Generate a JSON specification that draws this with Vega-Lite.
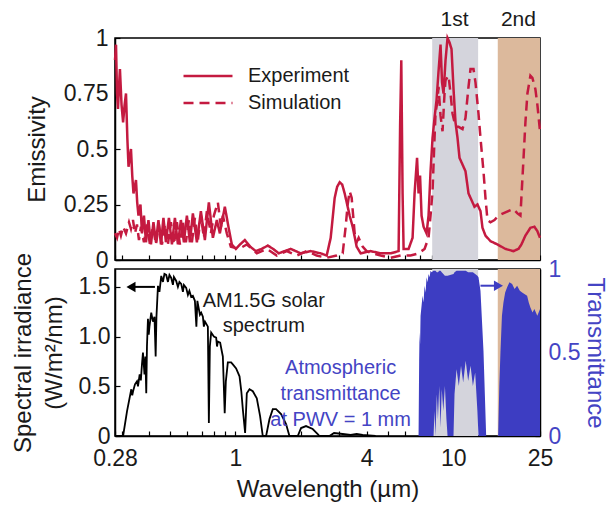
{
  "$schema": "https://vega.github.io/schema/vega-lite/v6.json",
  "padding": {"left": 10, "top": 8, "right": 6, "bottom": 0},
  "background": "white",
  "config": {
    "font": "Liberation Sans",
    "view": {"stroke": "#000", "strokeWidth": 1.5},
    "axis": {"labelFontSize": 23, "titleFontSize": 24, "labelColor": "#1a1a1a", "titleColor": "#1a1a1a", "titleFontWeight": "normal", "domainColor": "#000", "domainWidth": 1.5, "tickColor": "#000", "tickWidth": 1.2, "grid": false, "labelFlush": false, "labelOverlap": false, "zindex": 1},
    "text": {"font": "Liberation Sans"}
  },
  "datasets": {
    "bands": [
      {"band": "1st", "lo": 8, "hi": 13},
      {"band": "2nd", "lo": 16, "hi": 25}
    ],
    "emis": [
      {"series": "Experiment", "lam": 0.28, "e": 0.9},
      {"series": "Experiment", "lam": 0.283, "e": 0.97},
      {"series": "Experiment", "lam": 0.286, "e": 0.75},
      {"series": "Experiment", "lam": 0.289, "e": 0.68},
      {"series": "Experiment", "lam": 0.292, "e": 0.78},
      {"series": "Experiment", "lam": 0.295, "e": 0.86},
      {"series": "Experiment", "lam": 0.3, "e": 0.7},
      {"series": "Experiment", "lam": 0.305, "e": 0.62},
      {"series": "Experiment", "lam": 0.31, "e": 0.7},
      {"series": "Experiment", "lam": 0.3145, "e": 0.75},
      {"series": "Experiment", "lam": 0.319, "e": 0.55},
      {"series": "Experiment", "lam": 0.323, "e": 0.42},
      {"series": "Experiment", "lam": 0.327, "e": 0.46},
      {"series": "Experiment", "lam": 0.3315, "e": 0.5},
      {"series": "Experiment", "lam": 0.336, "e": 0.38},
      {"series": "Experiment", "lam": 0.3404, "e": 0.3},
      {"series": "Experiment", "lam": 0.345, "e": 0.33},
      {"series": "Experiment", "lam": 0.3495, "e": 0.36},
      {"series": "Experiment", "lam": 0.354, "e": 0.26},
      {"series": "Experiment", "lam": 0.3588, "e": 0.2},
      {"series": "Experiment", "lam": 0.3665, "e": 0.25},
      {"series": "Experiment", "lam": 0.3723, "e": 0.12},
      {"series": "Experiment", "lam": 0.3803, "e": 0.2},
      {"series": "Experiment", "lam": 0.3884, "e": 0.08},
      {"series": "Experiment", "lam": 0.3988, "e": 0.18},
      {"series": "Experiment", "lam": 0.4094, "e": 0.07},
      {"series": "Experiment", "lam": 0.4204, "e": 0.17},
      {"series": "Experiment", "lam": 0.4316, "e": 0.08},
      {"series": "Experiment", "lam": 0.4432, "e": 0.18},
      {"series": "Experiment", "lam": 0.455, "e": 0.07},
      {"series": "Experiment", "lam": 0.4672, "e": 0.19},
      {"series": "Experiment", "lam": 0.4796, "e": 0.08},
      {"series": "Experiment", "lam": 0.4951, "e": 0.19},
      {"series": "Experiment", "lam": 0.511, "e": 0.07},
      {"series": "Experiment", "lam": 0.5274, "e": 0.19},
      {"series": "Experiment", "lam": 0.5444, "e": 0.07},
      {"series": "Experiment", "lam": 0.5619, "e": 0.18},
      {"series": "Experiment", "lam": 0.58, "e": 0.08},
      {"series": "Experiment", "lam": 0.5986, "e": 0.2},
      {"series": "Experiment", "lam": 0.6179, "e": 0.08},
      {"series": "Experiment", "lam": 0.6377, "e": 0.21},
      {"series": "Experiment", "lam": 0.6653, "e": 0.08},
      {"series": "Experiment", "lam": 0.694, "e": 0.22},
      {"series": "Experiment", "lam": 0.7239, "e": 0.09},
      {"series": "Experiment", "lam": 0.7551, "e": 0.26},
      {"series": "Experiment", "lam": 0.7877, "e": 0.1},
      {"series": "Experiment", "lam": 0.8216, "e": 0.18},
      {"series": "Experiment", "lam": 0.8481, "e": 0.12},
      {"series": "Experiment", "lam": 0.894, "e": 0.24},
      {"series": "Experiment", "lam": 0.9325, "e": 0.14},
      {"series": "Experiment", "lam": 0.9626, "e": 0.07},
      {"series": "Experiment", "lam": 1.004, "e": 0.05},
      {"series": "Experiment", "lam": 1.05, "e": 0.07},
      {"series": "Experiment", "lam": 1.1041, "e": 0.09},
      {"series": "Experiment", "lam": 1.17, "e": 0.06},
      {"series": "Experiment", "lam": 1.24, "e": 0.04},
      {"series": "Experiment", "lam": 1.32, "e": 0.05},
      {"series": "Experiment", "lam": 1.4075, "e": 0.065},
      {"series": "Experiment", "lam": 1.49, "e": 0.05},
      {"series": "Experiment", "lam": 1.5808, "e": 0.03},
      {"series": "Experiment", "lam": 1.68, "e": 0.04},
      {"series": "Experiment", "lam": 1.7942, "e": 0.05},
      {"series": "Experiment", "lam": 1.9939, "e": 0.03},
      {"series": "Experiment", "lam": 2.2158, "e": 0.04},
      {"series": "Experiment", "lam": 2.4625, "e": 0.03},
      {"series": "Experiment", "lam": 2.6233, "e": 0.02},
      {"series": "Experiment", "lam": 2.7366, "e": 0.1},
      {"series": "Experiment", "lam": 2.8545, "e": 0.28},
      {"series": "Experiment", "lam": 2.93, "e": 0.33},
      {"series": "Experiment", "lam": 3.0092, "e": 0.35},
      {"series": "Experiment", "lam": 3.09, "e": 0.34},
      {"series": "Experiment", "lam": 3.1722, "e": 0.3},
      {"series": "Experiment", "lam": 3.3441, "e": 0.2},
      {"series": "Experiment", "lam": 3.4517, "e": 0.15},
      {"series": "Experiment", "lam": 3.6004, "e": 0.06},
      {"series": "Experiment", "lam": 3.7559, "e": 0.03},
      {"series": "Experiment", "lam": 4.1739, "e": 0.04},
      {"series": "Experiment", "lam": 4.6385, "e": 0.03},
      {"series": "Experiment", "lam": 5.1548, "e": 0.03},
      {"series": "Experiment", "lam": 5.6091, "e": 0.04},
      {"series": "Experiment", "lam": 5.6985, "e": 0.6},
      {"series": "Experiment", "lam": 5.7711, "e": 0.9},
      {"series": "Experiment", "lam": 5.8507, "e": 0.3},
      {"series": "Experiment", "lam": 5.9131, "e": 0.05},
      {"series": "Experiment", "lam": 6.2336, "e": 0.05},
      {"series": "Experiment", "lam": 6.5019, "e": 0.1},
      {"series": "Experiment", "lam": 6.6406, "e": 0.3},
      {"series": "Experiment", "lam": 6.818, "e": 0.46},
      {"series": "Experiment", "lam": 6.927, "e": 0.3},
      {"series": "Experiment", "lam": 7.0377, "e": 0.38},
      {"series": "Experiment", "lam": 7.1499, "e": 0.2},
      {"series": "Experiment", "lam": 7.3027, "e": 0.15},
      {"series": "Experiment", "lam": 7.5369, "e": 0.12},
      {"series": "Experiment", "lam": 7.6983, "e": 0.2},
      {"series": "Experiment", "lam": 7.8623, "e": 0.4},
      {"series": "Experiment", "lam": 8.0299, "e": 0.55},
      {"series": "Experiment", "lam": 8.2012, "e": 0.64},
      {"series": "Experiment", "lam": 8.3763, "e": 0.72},
      {"series": "Experiment", "lam": 8.5548, "e": 0.85},
      {"series": "Experiment", "lam": 8.7376, "e": 0.97},
      {"series": "Experiment", "lam": 8.877, "e": 0.8},
      {"series": "Experiment", "lam": 9.0189, "e": 0.75},
      {"series": "Experiment", "lam": 9.2106, "e": 0.9},
      {"series": "Experiment", "lam": 9.4075, "e": 1.0},
      {"series": "Experiment", "lam": 9.608, "e": 0.98},
      {"series": "Experiment", "lam": 9.8131, "e": 0.95},
      {"series": "Experiment", "lam": 10.023, "e": 0.77},
      {"series": "Experiment", "lam": 10.236, "e": 0.62},
      {"series": "Experiment", "lam": 10.455, "e": 0.55},
      {"series": "Experiment", "lam": 10.678, "e": 0.46},
      {"series": "Experiment", "lam": 11.021, "e": 0.43},
      {"series": "Experiment", "lam": 11.375, "e": 0.4},
      {"series": "Experiment", "lam": 11.742, "e": 0.3},
      {"series": "Experiment", "lam": 12.119, "e": 0.27},
      {"series": "Experiment", "lam": 12.509, "e": 0.24},
      {"series": "Experiment", "lam": 12.912, "e": 0.25},
      {"series": "Experiment", "lam": 13.327, "e": 0.22},
      {"series": "Experiment", "lam": 13.611, "e": 0.145},
      {"series": "Experiment", "lam": 14.049, "e": 0.11},
      {"series": "Experiment", "lam": 14.811, "e": 0.085},
      {"series": "Experiment", "lam": 15.946, "e": 0.07},
      {"series": "Experiment", "lam": 17.351, "e": 0.05},
      {"series": "Experiment", "lam": 18.881, "e": 0.04},
      {"series": "Experiment", "lam": 19.903, "e": 0.05},
      {"series": "Experiment", "lam": 20.543, "e": 0.07},
      {"series": "Experiment", "lam": 21.429, "e": 0.11},
      {"series": "Experiment", "lam": 22.591, "e": 0.145},
      {"series": "Experiment", "lam": 23.556, "e": 0.15},
      {"series": "Experiment", "lam": 24.314, "e": 0.13},
      {"series": "Experiment", "lam": 25, "e": 0.1},
      {"series": "Simulation", "lam": 0.28, "e": 0.12},
      {"series": "Simulation", "lam": 0.286, "e": 0.1},
      {"series": "Simulation", "lam": 0.292, "e": 0.14},
      {"series": "Simulation", "lam": 0.298, "e": 0.11},
      {"series": "Simulation", "lam": 0.305, "e": 0.15},
      {"series": "Simulation", "lam": 0.3145, "e": 0.12},
      {"series": "Simulation", "lam": 0.3246, "e": 0.17},
      {"series": "Simulation", "lam": 0.3315, "e": 0.14},
      {"series": "Simulation", "lam": 0.3386, "e": 0.18},
      {"series": "Simulation", "lam": 0.3458, "e": 0.12},
      {"series": "Simulation", "lam": 0.3532, "e": 0.16},
      {"series": "Simulation", "lam": 0.3607, "e": 0.09},
      {"series": "Simulation", "lam": 0.3684, "e": 0.15},
      {"series": "Simulation", "lam": 0.3803, "e": 0.08},
      {"series": "Simulation", "lam": 0.3925, "e": 0.16},
      {"series": "Simulation", "lam": 0.4051, "e": 0.07},
      {"series": "Simulation", "lam": 0.4182, "e": 0.15},
      {"series": "Simulation", "lam": 0.4316, "e": 0.07},
      {"series": "Simulation", "lam": 0.4455, "e": 0.16},
      {"series": "Simulation", "lam": 0.4599, "e": 0.07},
      {"series": "Simulation", "lam": 0.4746, "e": 0.16},
      {"series": "Simulation", "lam": 0.4899, "e": 0.07},
      {"series": "Simulation", "lam": 0.5056, "e": 0.17},
      {"series": "Simulation", "lam": 0.5219, "e": 0.07},
      {"series": "Simulation", "lam": 0.5386, "e": 0.17},
      {"series": "Simulation", "lam": 0.556, "e": 0.07},
      {"series": "Simulation", "lam": 0.5739, "e": 0.17},
      {"series": "Simulation", "lam": 0.5923, "e": 0.08},
      {"series": "Simulation", "lam": 0.6114, "e": 0.18},
      {"series": "Simulation", "lam": 0.6311, "e": 0.08},
      {"series": "Simulation", "lam": 0.6514, "e": 0.19},
      {"series": "Simulation", "lam": 0.6724, "e": 0.09},
      {"series": "Simulation", "lam": 0.694, "e": 0.2},
      {"series": "Simulation", "lam": 0.7163, "e": 0.1},
      {"series": "Simulation", "lam": 0.7393, "e": 0.22},
      {"series": "Simulation", "lam": 0.7712, "e": 0.12},
      {"series": "Simulation", "lam": 0.7961, "e": 0.2},
      {"series": "Simulation", "lam": 0.8304, "e": 0.26},
      {"series": "Simulation", "lam": 0.8571, "e": 0.15},
      {"series": "Simulation", "lam": 0.8754, "e": 0.2},
      {"series": "Simulation", "lam": 0.9131, "e": 0.12},
      {"series": "Simulation", "lam": 0.9525, "e": 0.06},
      {"series": "Simulation", "lam": 1.0363, "e": 0.05},
      {"series": "Simulation", "lam": 1.1277, "e": 0.07},
      {"series": "Simulation", "lam": 1.2532, "e": 0.03},
      {"series": "Simulation", "lam": 1.3927, "e": 0.05},
      {"series": "Simulation", "lam": 1.5477, "e": 0.02},
      {"series": "Simulation", "lam": 1.72, "e": 0.04},
      {"series": "Simulation", "lam": 1.9114, "e": 0.02},
      {"series": "Simulation", "lam": 2.1241, "e": 0.04},
      {"series": "Simulation", "lam": 2.3605, "e": 0.02},
      {"series": "Simulation", "lam": 2.6233, "e": 0.01},
      {"series": "Simulation", "lam": 2.9153, "e": 0.02},
      {"series": "Simulation", "lam": 3.106, "e": 0.03},
      {"series": "Simulation", "lam": 3.2058, "e": 0.15},
      {"series": "Simulation", "lam": 3.2743, "e": 0.25},
      {"series": "Simulation", "lam": 3.3441, "e": 0.31},
      {"series": "Simulation", "lam": 3.4155, "e": 0.28},
      {"series": "Simulation", "lam": 3.4701, "e": 0.2},
      {"series": "Simulation", "lam": 3.5253, "e": 0.12},
      {"series": "Simulation", "lam": 3.6004, "e": 0.08},
      {"series": "Simulation", "lam": 3.6776, "e": 0.1},
      {"series": "Simulation", "lam": 3.8359, "e": 0.06},
      {"series": "Simulation", "lam": 4.0011, "e": 0.04},
      {"series": "Simulation", "lam": 4.2628, "e": 0.03},
      {"series": "Simulation", "lam": 4.6385, "e": 0.02},
      {"series": "Simulation", "lam": 5.1548, "e": 0.01},
      {"series": "Simulation", "lam": 5.7287, "e": 0.02},
      {"series": "Simulation", "lam": 6.3663, "e": 0.02},
      {"series": "Simulation", "lam": 6.927, "e": 0.03},
      {"series": "Simulation", "lam": 7.3797, "e": 0.05},
      {"series": "Simulation", "lam": 7.6983, "e": 0.1},
      {"series": "Simulation", "lam": 7.8623, "e": 0.2},
      {"series": "Simulation", "lam": 8.0299, "e": 0.31},
      {"series": "Simulation", "lam": 8.2012, "e": 0.55},
      {"series": "Simulation", "lam": 8.2882, "e": 0.66},
      {"series": "Simulation", "lam": 8.4652, "e": 0.72},
      {"series": "Simulation", "lam": 8.5548, "e": 0.78},
      {"series": "Simulation", "lam": 8.7376, "e": 0.65},
      {"series": "Simulation", "lam": 8.9237, "e": 0.58},
      {"series": "Simulation", "lam": 9.114, "e": 0.75},
      {"series": "Simulation", "lam": 9.2106, "e": 0.81},
      {"series": "Simulation", "lam": 9.5077, "e": 0.83},
      {"series": "Simulation", "lam": 9.7101, "e": 0.75},
      {"series": "Simulation", "lam": 9.917, "e": 0.66},
      {"series": "Simulation", "lam": 10.236, "e": 0.6},
      {"series": "Simulation", "lam": 10.566, "e": 0.6},
      {"series": "Simulation", "lam": 11.021, "e": 0.59},
      {"series": "Simulation", "lam": 11.375, "e": 0.64},
      {"series": "Simulation", "lam": 11.742, "e": 0.78},
      {"series": "Simulation", "lam": 11.992, "e": 0.86},
      {"series": "Simulation", "lam": 12.378, "e": 0.86},
      {"series": "Simulation", "lam": 12.642, "e": 0.8},
      {"series": "Simulation", "lam": 13.049, "e": 0.66},
      {"series": "Simulation", "lam": 13.327, "e": 0.55},
      {"series": "Simulation", "lam": 13.756, "e": 0.4},
      {"series": "Simulation", "lam": 14.049, "e": 0.28},
      {"series": "Simulation", "lam": 14.349, "e": 0.18},
      {"series": "Simulation", "lam": 14.811, "e": 0.17},
      {"series": "Simulation", "lam": 15.449, "e": 0.18},
      {"series": "Simulation", "lam": 16.116, "e": 0.2},
      {"series": "Simulation", "lam": 17.351, "e": 0.215},
      {"series": "Simulation", "lam": 18.881, "e": 0.23},
      {"series": "Simulation", "lam": 19.694, "e": 0.21},
      {"series": "Simulation", "lam": 20.328, "e": 0.2},
      {"series": "Simulation", "lam": 20.982, "e": 0.45},
      {"series": "Simulation", "lam": 21.429, "e": 0.62},
      {"series": "Simulation", "lam": 21.887, "e": 0.75},
      {"series": "Simulation", "lam": 22.591, "e": 0.83},
      {"series": "Simulation", "lam": 23.072, "e": 0.82},
      {"series": "Simulation", "lam": 23.806, "e": 0.77},
      {"series": "Simulation", "lam": 24.314, "e": 0.7},
      {"series": "Simulation", "lam": 25, "e": 0.58}
    ],
    "solar": [
      {"lam": 0.28, "irr": 0}, {"lam": 0.305, "irr": 0}, {"lam": 0.318, "irr": 0.25}, {"lam": 0.3326, "irr": 0.47},
      {"lam": 0.336, "irr": 0.41}, {"lam": 0.339, "irr": 0.45}, {"lam": 0.3458, "irr": 0.52}, {"lam": 0.3532, "irr": 0.55}, {"lam": 0.357, "irr": 0.5},
      {"lam": 0.3634, "irr": 0.62}, {"lam": 0.368, "irr": 0.56}, {"lam": 0.3723, "irr": 0.72}, {"lam": 0.3763, "irr": 0.84}, {"lam": 0.3823, "irr": 0.62},
      {"lam": 0.386, "irr": 0.8}, {"lam": 0.3896, "irr": 0.43}, {"lam": 0.3925, "irr": 0.9}, {"lam": 0.3967, "irr": 1.18},
      {"lam": 0.4, "irr": 1.02}, {"lam": 0.403, "irr": 1.1}, {"lam": 0.4107, "irr": 1.24}, {"lam": 0.4182, "irr": 1.15}, {"lam": 0.425, "irr": 1.2},
      {"lam": 0.4303, "irr": 0.8}, {"lam": 0.4339, "irr": 1.2}, {"lam": 0.4409, "irr": 1.51}, {"lam": 0.4479, "irr": 1.45},
      {"lam": 0.4565, "irr": 1.61}, {"lam": 0.4647, "irr": 1.55}, {"lam": 0.4721, "irr": 1.63}, {"lam": 0.4811, "irr": 1.62},
      {"lam": 0.4899, "irr": 1.55}, {"lam": 0.4977, "irr": 1.62}, {"lam": 0.5073, "irr": 1.59}, {"lam": 0.5164, "irr": 1.52},
      {"lam": 0.5219, "irr": 1.6}, {"lam": 0.5347, "irr": 1.56}, {"lam": 0.5444, "irr": 1.5}, {"lam": 0.5531, "irr": 1.55},
      {"lam": 0.5637, "irr": 1.53}, {"lam": 0.5739, "irr": 1.45}, {"lam": 0.58, "irr": 1.52}, {"lam": 0.5942, "irr": 1.49},
      {"lam": 0.605, "irr": 1.42}, {"lam": 0.6146, "irr": 1.46}, {"lam": 0.6263, "irr": 1.4}, {"lam": 0.6377, "irr": 1.41},
      {"lam": 0.6514, "irr": 1.36}, {"lam": 0.6618, "irr": 1.1}, {"lam": 0.6688, "irr": 1.36}, {"lam": 0.6724, "irr": 1.33},
      {"lam": 0.687, "irr": 1.22}, {"lam": 0.6962, "irr": 1.24}, {"lam": 0.7088, "irr": 1.2}, {"lam": 0.7163, "irr": 1.1},
      {"lam": 0.725, "irr": 1.15}, {"lam": 0.7339, "irr": 1.13}, {"lam": 0.7472, "irr": 1.1}, {"lam": 0.7551, "irr": 0.13},
      {"lam": 0.7631, "irr": 0.9}, {"lam": 0.7737, "irr": 1.04}, {"lam": 0.7961, "irr": 1.0}, {"lam": 0.8156, "irr": 0.99},
      {"lam": 0.823, "irr": 0.9}, {"lam": 0.8304, "irr": 0.95}, {"lam": 0.8508, "irr": 0.94}, {"lam": 0.8662, "irr": 0.85},
      {"lam": 0.8754, "irr": 0.8}, {"lam": 0.8927, "irr": 0.23}, {"lam": 0.9035, "irr": 0.55}, {"lam": 0.9228, "irr": 0.74},
      {"lam": 0.9555, "irr": 0.74}, {"lam": 0.9728, "irr": 0.72}, {"lam": 1.0072, "irr": 0.68}, {"lam": 1.0441, "irr": 0.6},
      {"lam": 1.064, "irr": 0.45}, {"lam": 1.081, "irr": 0.27}, {"lam": 1.1076, "irr": 0.03}, {"lam": 1.1277, "irr": 0.43},
      {"lam": 1.1603, "irr": 0.47}, {"lam": 1.2014, "irr": 0.45}, {"lam": 1.2532, "irr": 0.38}, {"lam": 1.2977, "irr": 0.2},
      {"lam": 1.3351, "irr": 0}, {"lam": 1.3825, "irr": 0}, {"lam": 1.433, "irr": 0.17}, {"lam": 1.4837, "irr": 0.27},
      {"lam": 1.5364, "irr": 0.27}, {"lam": 1.6197, "irr": 0.22}, {"lam": 1.7074, "irr": 0.12}, {"lam": 1.7698, "irr": 0},
      {"lam": 1.9318, "irr": 0}, {"lam": 2.0003, "irr": 0.08}, {"lam": 2.1086, "irr": 0.1}, {"lam": 2.263, "irr": 0.07},
      {"lam": 2.3857, "irr": 0.02}, {"lam": 2.4289, "irr": 0}, {"lam": 2.6994, "irr": 0}, {"lam": 2.8359, "irr": 0.03},
      {"lam": 3.106, "irr": 0.02}, {"lam": 3.3797, "irr": 0.01}, {"lam": 3.6004, "irr": 0.02}, {"lam": 3.8359, "irr": 0.01},
      {"lam": 4.4, "irr": 0}
    ],
    "trans": [
      {"lam": 6.927, "up": 0, "low": 0}, {"lam": 6.97, "up": 0.45, "low": 0}, {"lam": 7.0005, "up": 0.62, "low": 0},
      {"lam": 7.04, "up": 0.55, "low": 0}, {"lam": 7.0749, "up": 0.72, "low": 0}, {"lam": 7.15, "up": 0.78, "low": 0},
      {"lam": 7.2256, "up": 0.84, "low": 0}, {"lam": 7.3, "up": 0.8, "low": 0}, {"lam": 7.3797, "up": 0.9, "low": 0},
      {"lam": 7.46, "up": 0.86, "low": 0}, {"lam": 7.5369, "up": 0.95, "low": 0}, {"lam": 7.62, "up": 0.92, "low": 0},
      {"lam": 7.6983, "up": 0.97, "low": 0}, {"lam": 7.78, "up": 0.95, "low": 0}, {"lam": 7.8623, "up": 0.99, "low": 0},
      {"lam": 7.95, "up": 0.98, "low": 0}, {"lam": 8.1155, "up": 0.99, "low": 0}, {"lam": 8.2, "up": 0.99, "low": 0.15},
      {"lam": 8.28, "up": 0.99, "low": 0}, {"lam": 8.4, "up": 0.98, "low": 0.25}, {"lam": 8.5, "up": 0.98, "low": 0.1},
      {"lam": 8.62, "up": 0.99, "low": 0.3}, {"lam": 8.74, "up": 0.99, "low": 0.05}, {"lam": 8.85, "up": 0.98, "low": 0.28},
      {"lam": 9.0, "up": 0.97, "low": 0.15}, {"lam": 9.15, "up": 0.96, "low": 0.3}, {"lam": 9.3, "up": 0.96, "low": 0.1},
      {"lam": 9.41, "up": 0.96, "low": 0}, {"lam": 10.02, "up": 0.97, "low": 0}, {"lam": 10.13, "up": 0.98, "low": 0.25},
      {"lam": 10.35, "up": 0.99, "low": 0.4}, {"lam": 10.6, "up": 0.99, "low": 0.3}, {"lam": 10.85, "up": 0.99, "low": 0.42},
      {"lam": 11.1, "up": 0.99, "low": 0.32}, {"lam": 11.4, "up": 0.99, "low": 0.45}, {"lam": 11.7, "up": 0.98, "low": 0.33},
      {"lam": 12.0, "up": 0.98, "low": 0.42}, {"lam": 12.3, "up": 0.98, "low": 0.3}, {"lam": 12.6, "up": 0.97, "low": 0.38},
      {"lam": 12.9, "up": 0.96, "low": 0.15}, {"lam": 13.049, "up": 0.95, "low": 0}, {"lam": 13.327, "up": 0.87, "low": 0},
      {"lam": 13.756, "up": 0.51, "low": 0}, {"lam": 14.154, "up": 0, "low": 0},
      {"lam": 16.064, "up": 0, "low": 0}, {"lam": 16.26, "up": 0.3, "low": 0}, {"lam": 16.459, "up": 0.5, "low": 0},
      {"lam": 16.72, "up": 0.72, "low": 0}, {"lam": 16.989, "up": 0.8, "low": 0}, {"lam": 17.3, "up": 0.86, "low": 0},
      {"lam": 17.665, "up": 0.89, "low": 0}, {"lam": 18.1, "up": 0.92, "low": 0}, {"lam": 18.622, "up": 0.91, "low": 0},
      {"lam": 19.1, "up": 0.88, "low": 0}, {"lam": 19.632, "up": 0.9, "low": 0}, {"lam": 20.2, "up": 0.87, "low": 0},
      {"lam": 20.695, "up": 0.86, "low": 0}, {"lam": 21.2, "up": 0.85, "low": 0}, {"lam": 21.817, "up": 0.84, "low": 0},
      {"lam": 22.2, "up": 0.8, "low": 0}, {"lam": 22.591, "up": 0.77, "low": 0}, {"lam": 23.1, "up": 0.74, "low": 0},
      {"lam": 23.556, "up": 0.76, "low": 0}, {"lam": 24.3, "up": 0.72, "low": 0}, {"lam": 25, "up": 0.76, "low": 0}
    ]
  },
  "spacing": 9,
  "bounds": "flush",
  "resolve": {"legend": {"strokeDash": "independent"}},
  "vconcat": [
    {
      "width": 425,
      "height": 222,
      "layer": [
        {
          "data": {"name": "bands"},
          "mark": {"type": "rect"},
          "encoding": {
            "x": {"field": "lo", "type": "quantitative", "scale": {"type": "log", "domain": [0.28, 25], "nice": false},
                  "axis": {"title": null, "labels": false, "values": [0.28, 0.3, 0.4, 0.5, 0.6, 0.7, 0.8, 0.9, 1, 2, 3, 4, 5, 6, 7, 8, 9, 10, 20, 25], "tickSize": -5}},
            "x2": {"field": "hi"},
            "color": {"field": "band", "type": "nominal", "scale": {"domain": ["1st", "2nd"], "range": ["#d4d4dc", "#dcb99c"]}, "legend": null}
          }
        },
        {
          "data": {"name": "emis"},
          "mark": {"type": "line", "color": "#c41a40", "strokeWidth": 2.5},
          "encoding": {
            "x": {"field": "lam", "type": "quantitative", "scale": {"type": "log", "domain": [0.28, 25], "nice": false}},
            "y": {"field": "e", "type": "quantitative", "scale": {"domain": [0, 1], "nice": false},
                  "axis": {"title": "Emissivity", "values": [0, 0.125, 0.25, 0.375, 0.5, 0.625, 0.75, 0.875, 1],
                           "labelExpr": "(datum.value*4)%1===0 ? format(datum.value,'~g') : ''", "tickSize": -5, "labelPadding": 12, "titlePadding": 14}},
            "strokeDash": {"field": "series", "type": "nominal", "scale": {"domain": ["Experiment", "Simulation"], "range": [[1, 0], [10, 6]]},
                           "legend": {"orient": "none", "legendX": 67, "legendY": 28, "title": null, "labelFontSize": 20, "labelColor": "#1a1a1a",
                                      "symbolType": "stroke", "symbolSize": 2400, "symbolStrokeWidth": 2.5, "symbolStrokeColor": "#c41a40",
                                      "clipHeight": 20, "rowPadding": 7, "labelOffset": 14, "padding": 0}}
          }
        },
        {
          "data": {"values": [{"lam": 10.13, "e": 1.08, "label": "1st"}, {"lam": 19.9, "e": 1.08, "label": "2nd"}]},
          "mark": {"type": "text", "fontSize": 21, "color": "#1a1a1a", "baseline": "middle", "align": "center"},
          "encoding": {
            "x": {"field": "lam", "type": "quantitative", "scale": {"type": "log", "domain": [0.28, 25], "nice": false}},
            "y": {"field": "e", "type": "quantitative", "scale": {"domain": [0, 1], "nice": false}, "axis": {"title": "Emissivity"}},
            "text": {"field": "label"}
          }
        }
      ]
    },
    {
      "width": 425,
      "height": 167,
      "layer": [
        {
          "layer": [
            {
              "data": {"name": "bands"},
              "mark": {"type": "rect"},
              "encoding": {
                "x": {"field": "lo", "type": "quantitative", "scale": {"type": "log", "domain": [0.28, 25], "nice": false},
                      "axis": {"title": "Wavelength (µm)", "values": [0.28, 0.3, 0.4, 0.5, 0.6, 0.7, 0.8, 0.9, 1, 2, 3, 4, 5, 6, 7, 8, 9, 10, 20, 25],
                               "labelExpr": "indexof([0.28,1,4,10,25], datum.value) >= 0 ? format(datum.value,'~g') : ''",
                               "tickSize": -5, "labelPadding": 16, "titlePadding": 7}},
                "x2": {"field": "hi"},
                "color": {"field": "band", "type": "nominal", "scale": {"domain": ["1st", "2nd"], "range": ["#d4d4dc", "#dcb99c"]}, "legend": null}
              }
            },
            {
              "data": {"name": "solar"},
              "mark": {"type": "line", "color": "#000", "strokeWidth": 1.8},
              "encoding": {
                "x": {"field": "lam", "type": "quantitative", "scale": {"type": "log", "domain": [0.28, 25], "nice": false}},
                "y": {"field": "irr", "type": "quantitative", "scale": {"domain": [0, 1.68], "nice": false},
                      "axis": {"title": ["Spectral irradiance", "(W/m²/nm)"], "orient": "left", "values": [0, 0.25, 0.5, 0.75, 1, 1.25, 1.5],
                               "labelExpr": "(datum.value*2)%1===0 ? (datum.value===0 ? '0' : format(datum.value,'.1f')) : ''",
                               "tickSize": -5, "labelPadding": 10, "titlePadding": 12, "titleLineHeight": 31}}
              }
            },
            {
              "data": {"values": [{"lam": 0.3315, "lam2": 0.427, "irr": 1.5}]},
              "mark": {"type": "rule", "color": "#000", "strokeWidth": 2},
              "encoding": {
                "x": {"field": "lam", "type": "quantitative", "scale": {"type": "log", "domain": [0.28, 25], "nice": false}},
                "x2": {"field": "lam2"},
                "y": {"field": "irr", "type": "quantitative", "scale": {"domain": [0, 1.68], "nice": false}, "axis": {"title": ["Spectral irradiance", "(W/m²/nm)"]}}
              }
            },
            {
              "data": {"values": [{"lam": 0.3315, "irr": 1.5}]},
              "mark": {"type": "point", "shape": "triangle-left", "filled": true, "size": 110, "color": "#000", "opacity": 1},
              "encoding": {
                "x": {"field": "lam", "type": "quantitative", "scale": {"type": "log", "domain": [0.28, 25], "nice": false}},
                "y": {"field": "irr", "type": "quantitative", "scale": {"domain": [0, 1.68], "nice": false}, "axis": {"title": ["Spectral irradiance", "(W/m²/nm)"]}}
              }
            },
            {
              "data": {"values": [{"lam": 1.349, "irr": 1.354, "label": "AM1.5G solar\nspectrum"}]},
              "mark": {"type": "text", "fontSize": 20, "color": "#1a1a1a", "align": "center", "baseline": "middle", "lineBreak": "\n", "lineHeight": 25},
              "encoding": {
                "x": {"field": "lam", "type": "quantitative", "scale": {"type": "log", "domain": [0.28, 25], "nice": false}},
                "y": {"field": "irr", "type": "quantitative", "scale": {"domain": [0, 1.68], "nice": false}, "axis": {"title": ["Spectral irradiance", "(W/m²/nm)"]}},
                "text": {"field": "label"}
              }
            }
          ]
        },
        {
          "layer": [
            {
              "data": {"name": "trans"},
              "mark": {"type": "area", "color": "#3d3dc2", "opacity": 1},
              "encoding": {
                "x": {"field": "lam", "type": "quantitative", "scale": {"type": "log", "domain": [0.28, 25], "nice": false}},
                "y": {"field": "up", "type": "quantitative", "scale": {"domain": [0, 1], "nice": false},
                      "axis": {"title": "Transmittance", "orient": "right", "values": [0, 0.25, 0.5, 0.75, 1],
                               "labelExpr": "(datum.value*2)%1===0 ? format(datum.value,'~g') : ''",
                               "labelColor": "#4444c4", "titleColor": "#4444c4", "tickSize": -5, "labelPadding": 13, "titlePadding": 3}},
                "y2": {"field": "low"}
              }
            },
            {
              "data": {"values": [{"lam": 13.327, "lam2": 16.116, "up": 0.9}]},
              "mark": {"type": "rule", "color": "#3d3dc2", "strokeWidth": 2},
              "encoding": {
                "x": {"field": "lam", "type": "quantitative", "scale": {"type": "log", "domain": [0.28, 25], "nice": false}},
                "x2": {"field": "lam2"},
                "y": {"field": "up", "type": "quantitative", "scale": {"domain": [0, 1], "nice": false}, "axis": {"title": "Transmittance", "orient": "right"}}
              }
            },
            {
              "data": {"values": [{"lam": 16.116, "up": 0.9}]},
              "mark": {"type": "point", "shape": "triangle-right", "filled": true, "size": 110, "color": "#3d3dc2", "opacity": 1},
              "encoding": {
                "x": {"field": "lam", "type": "quantitative", "scale": {"type": "log", "domain": [0.28, 25], "nice": false}},
                "y": {"field": "up", "type": "quantitative", "scale": {"domain": [0, 1], "nice": false}, "axis": {"title": "Transmittance", "orient": "right"}}
              }
            },
            {
              "data": {"values": [{"lam": 3.04, "up": 0.407, "label": "Atmospheric\ntransmittance\nat PWV = 1 mm"}]},
              "mark": {"type": "text", "fontSize": 20, "color": "#4444c4", "align": "center", "baseline": "middle", "lineBreak": "\n", "lineHeight": 26},
              "encoding": {
                "x": {"field": "lam", "type": "quantitative", "scale": {"type": "log", "domain": [0.28, 25], "nice": false}},
                "y": {"field": "up", "type": "quantitative", "scale": {"domain": [0, 1], "nice": false}, "axis": {"title": "Transmittance", "orient": "right"}},
                "text": {"field": "label"}
              }
            }
          ]
        }
      ],
      "resolve": {"scale": {"y": "independent"}}
    }
  ]
}
